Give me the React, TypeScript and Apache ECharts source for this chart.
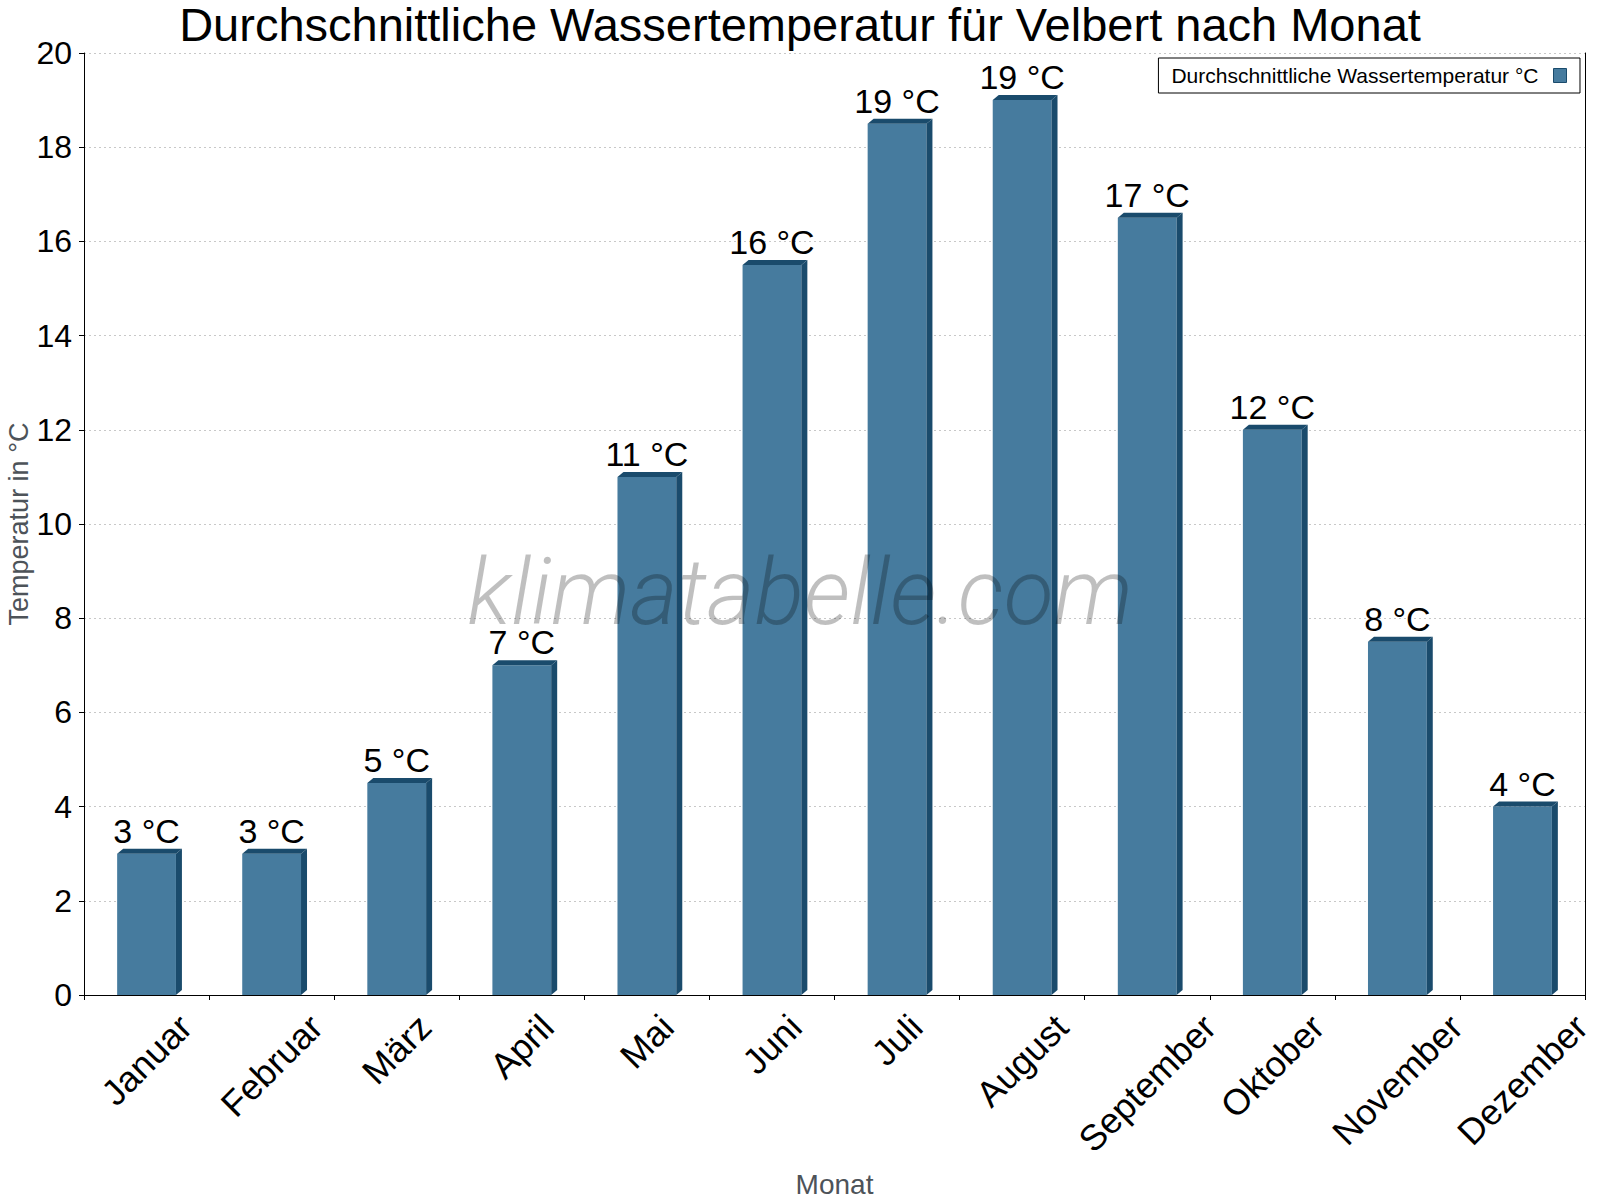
import React, { useEffect, useRef } from "react";
import * as echarts from "echarts";

const categories = ["Januar", "Februar", "März", "April", "Mai", "Juni", "Juli", "August", "September", "Oktober", "November", "Dezember"];
const waterTemp = [3, 3, 4.5, 7, 11, 15.5, 18.5, 19, 16.5, 12, 7.5, 4];
const valueLabels = ["3 °C", "3 °C", "5 °C", "7 °C", "11 °C", "16 °C", "19 °C", "19 °C", "17 °C", "12 °C", "8 °C", "4 °C"];
const seriesName = "Durchschnittliche Wassertemperatur °C";
const titleText = "Durchschnittliche Wassertemperatur für Velbert nach Monat";
const yAxisTitle = "Temperatur in °C";
const xAxisTitle = "Monat";
const watermark = "klimatabelle.com";

const FONT = '"Liberation Sans", Arial, Helvetica, sans-serif';
const FRONT = "#467b9e";
const DARK = "#1a4b6c";
const DX = 6;
const DY = 5;
const XLABEL_SIZE = 36;

export default function App() {
  const ref = useRef<HTMLDivElement>(null);

  useEffect(() => {
    document.body.style.margin = "0";
    if (!ref.current) return;
    const chart = echarts.init(ref.current, undefined, { renderer: "svg" });

    const ctx = document.createElement("canvas").getContext("2d")!;
    ctx.font = `${XLABEL_SIZE}px ${FONT}`;
    const rich: Record<string, any> = {};
    categories.forEach((c, i) => {
      const w = ctx.measureText(c).width;
      rich["l" + i] = {
        fontSize: XLABEL_SIZE,
        fontFamily: FONT,
        color: "#000",
        padding: [w / 2, w / 2, 0, 0],
      };
    });

    const data = categories.map((c, i) => [i, waterTemp[i]]);

    chart.setOption({
      animation: false,
      backgroundColor: "#fff",
      title: {
        text: titleText,
        left: "center",
        top: 1,
        padding: 0,
        textStyle: { fontSize: 47, fontWeight: "normal", color: "#000", fontFamily: FONT },
      },
      legend: {
        right: 20,
        top: 58,
        align: "right",
        padding: [7, 13, 7, 13],
        backgroundColor: "#fff",
        borderColor: "#000",
        borderWidth: 1,
        borderRadius: 0,
        itemWidth: 13,
        itemHeight: 14,
        formatter: (n: string) => `{t|${n}}`,
        textStyle: {
          fontSize: 21,
          color: "#000",
          fontFamily: FONT,
          rich: { t: { fontSize: 21, color: "#000", fontFamily: FONT, padding: [0, 10, 0, 0] } },
        },
        data: [
          {
            name: seriesName,
            icon: "rect",
            itemStyle: { color: FRONT, borderColor: DARK, borderWidth: 1 },
          },
        ],
      },
      grid: { left: 84, right: 15, top: 53, bottom: 205, containLabel: false, outerBoundsMode: "none" },
      xAxis: {
        type: "category",
        data: categories,
        name: xAxisTitle,
        nameLocation: "middle",
        nameGap: 175,
        nameMoveOverlap: false,
        nameTextStyle: { fontSize: 28, color: "#4d5359", fontFamily: FONT },
        axisLine: { lineStyle: { color: "#000", width: 1 } },
        axisTick: { show: true, length: 5, lineStyle: { color: "#000" } },
        axisLabel: {
          interval: 0,
          rotate: 45,
          align: "center",
          verticalAlign: "middle",
          margin: 26,
          hideOverlap: false,
          formatter: (v: string, i: number) => `{l${i}|${v}}`,
          rich,
        },
        splitLine: { show: false },
      },
      yAxis: [
        {
          type: "value",
          min: 0,
          max: 20,
          interval: 2,
          name: yAxisTitle,
          nameLocation: "middle",
          nameGap: 52,
          nameMoveOverlap: false,
          nameTextStyle: { fontSize: 27, color: "#4d5359", fontFamily: FONT },
          axisLine: { show: true, lineStyle: { color: "#000", width: 1 } },
          axisTick: { show: true, length: 5, lineStyle: { color: "#000" } },
          axisLabel: { fontSize: 32, color: "#000", fontFamily: FONT, margin: 12 },
          splitLine: { show: true, lineStyle: { color: "#c8c8c8", type: [2, 3], width: 1 } },
        },
        {
          type: "value",
          position: "right",
          min: 0,
          max: 20,
          interval: 2,
          axisLine: { show: true, onZero: false, lineStyle: { color: "#000", width: 1 } },
          axisTick: { show: false },
          axisLabel: { show: false },
          splitLine: { show: false },
        },
      ],
      graphic: [
        {
          type: "text",
          x: 800,
          y: 592,
          z: 100,
          silent: true,
          style: {
            text: watermark,
            fontFamily: "Roboto",
            fontStyle: "italic",
            fontWeight: 300,
            fontSize: 92,
            fill: "rgba(0,0,0,0.25)",
            align: "center",
            verticalAlign: "middle",
          },
        },
      ],
      series: [
        {
          type: "custom",
          name: seriesName,
          clip: false,
          itemStyle: { color: FRONT },
          encode: { x: 0, y: 1 },
          data,
          renderItem: (params: any, api: any) => {
            const idx = api.value(0);
            const v = api.value(1);
            const top = api.coord([idx, v]);
            const base = api.coord([idx, 0]);
            const bw = api.size([1, 0])[0] * 0.47;
            const x0 = top[0] - bw / 2;
            const x1 = top[0] + bw / 2;
            const yT = top[1];
            const yB = base[1];
            return {
              type: "group",
              children: [
                { type: "rect", shape: { x: x0, y: yT, width: bw, height: yB - yT }, style: { fill: FRONT } },
                {
                  type: "polygon",
                  shape: { points: [[x0, yT], [x0 + DX, yT - DY], [x1 + DX, yT - DY], [x1, yT]] },
                  style: { fill: DARK },
                },
                {
                  type: "polygon",
                  shape: { points: [[x1, yT], [x1 + DX, yT - DY], [x1 + DX, yB - DY], [x1, yB]] },
                  style: { fill: DARK },
                },
                {
                  type: "text",
                  x: top[0],
                  y: yT - 6,
                  style: {
                    text: valueLabels[idx],
                    fontSize: 34,
                    fontFamily: FONT,
                    fill: "#000",
                    align: "center",
                    verticalAlign: "bottom",
                  },
                },
              ],
            };
          },
        },
      ],
    });

    return () => chart.dispose();
  }, []);

  return <div ref={ref} style={{ width: 1600, height: 1200 }} />;
}
